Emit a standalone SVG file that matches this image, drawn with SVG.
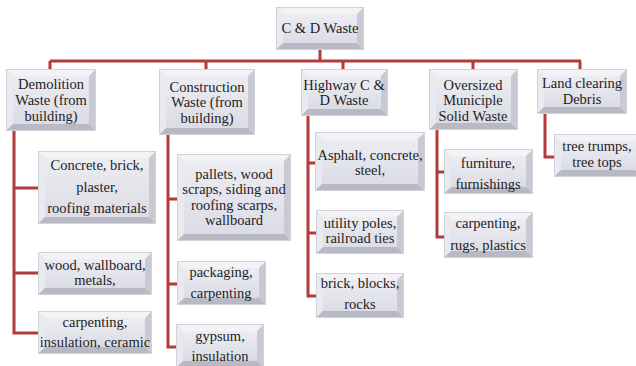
<svg xmlns="http://www.w3.org/2000/svg" width="636" height="366" viewBox="0 0 636 366">
<defs>
<linearGradient id="face" x1="0" y1="0" x2="0" y2="1">
<stop offset="0" stop-color="#ececf2"/>
<stop offset="1" stop-color="#dcdce6"/>
</linearGradient>
</defs>
<style>
.o{fill:url(#face);stroke:#d2d2da;stroke-width:2}
.t{fill:#f3f3f7}
.l{fill:#e9e9f0}
.r{fill:#c9c9d3}
.b{fill:#b9b9c5}
.c{fill:none;stroke:#b23b3b;stroke-width:3}
.x{font-family:'Liberation Serif','DejaVu Serif',serif;font-size:14.5px;fill:#1e1e1e;text-anchor:middle}
</style>
<rect width="636" height="366" fill="#ffffff"/>
<g id="connectors">
<path class="c" d="M320,49 V61 M50,61 H581 M50,61 V70 M206,61 V70 M343,61 V70 M473,61 V70 M580,61 V70"/>
<path class="c" d="M14,130 V333 H39 M14,188 H39 M14,273 H39"/>
<path class="c" d="M168,134 V347 H177 M168,199 H178 M168,284 H178"/>
<path class="c" d="M308,115 V296 H317 M308,163 H316 M308,233 H317"/>
<path class="c" d="M437,129 V237 H445 M437,172 H445"/>
<path class="c" d="M545,113 V157 H555"/>
</g>
<g id="root">
<rect class="o" x="277" y="8" width="86" height="41"/>
<path class="t" d="M277,8 h86 l-6,6 h-74 z"/><path class="l" d="M277,8 v41 l6,-6 v-29 z"/>
<path class="r" d="M363,8 v41 l-6,-6 v-29 z"/><path class="b" d="M277,49 h86 l-6,-6 h-74 z"/>
<rect x="283" y="14" width="74" height="29" fill="url(#face)"/>
<text class="x" x="320" y="33">C &amp; D Waste</text>
</g>
<g id="demolition">
<rect class="o" x="7" y="70" width="88" height="60"/>
<path class="t" d="M7,70 h88 l-6,6 h-76 z"/><path class="l" d="M7,70 v60 l6,-6 v-48 z"/>
<path class="r" d="M95,70 v60 l-6,-6 v-48 z"/><path class="b" d="M7,130 h88 l-6,-6 h-76 z"/>
<rect x="13" y="76" width="76" height="48" fill="url(#face)"/>
<g class="x"><text x="51" y="89">Demolition</text><text x="51" y="105">Waste (from</text><text x="51" y="121">building)</text></g>
</g>
<g id="construction">
<rect class="o" x="160" y="70" width="94" height="64"/>
<path class="t" d="M160,70 h94 l-6,6 h-82 z"/><path class="l" d="M160,70 v64 l6,-6 v-52 z"/>
<path class="r" d="M254,70 v64 l-6,-6 v-52 z"/><path class="b" d="M160,134 h94 l-6,-6 h-82 z"/>
<rect x="166" y="76" width="82" height="52" fill="url(#face)"/>
<g class="x"><text x="207" y="92">Construction</text><text x="207" y="107">Waste (from</text><text x="207" y="123">building)</text></g>
</g>
<g id="highway">
<rect class="o" x="302" y="70" width="85" height="45"/>
<path class="t" d="M302,70 h85 l-6,6 h-73 z"/><path class="l" d="M302,70 v45 l6,-6 v-33 z"/>
<path class="r" d="M387,70 v45 l-6,-6 v-33 z"/><path class="b" d="M302,115 h85 l-6,-6 h-73 z"/>
<rect x="308" y="76" width="73" height="33" fill="url(#face)"/>
<g class="x"><text x="344" y="90">Highway C &amp;</text><text x="344" y="105">D Waste</text></g>
</g>
<g id="oversized">
<rect class="o" x="430" y="70" width="87" height="59"/>
<path class="t" d="M430,70 h87 l-6,6 h-75 z"/><path class="l" d="M430,70 v59 l6,-6 v-47 z"/>
<path class="r" d="M517,70 v59 l-6,-6 v-47 z"/><path class="b" d="M430,129 h87 l-6,-6 h-75 z"/>
<rect x="436" y="76" width="75" height="47" fill="url(#face)"/>
<g class="x"><text x="473" y="90">Oversized</text><text x="473" y="105">Municiple</text><text x="473" y="121">Solid Waste</text></g>
</g>
<g id="landclearing">
<rect class="o" x="538" y="70" width="88" height="43"/>
<path class="t" d="M538,70 h88 l-6,6 h-76 z"/><path class="l" d="M538,70 v43 l6,-6 v-31 z"/>
<path class="r" d="M626,70 v43 l-6,-6 v-31 z"/><path class="b" d="M538,113 h88 l-6,-6 h-76 z"/>
<rect x="544" y="76" width="76" height="31" fill="url(#face)"/>
<g class="x"><text x="582" y="88">Land clearing</text><text x="582" y="104">Debris</text></g>
</g>
<g id="concrete">
<rect class="o" x="39" y="152" width="116" height="71"/>
<path class="t" d="M39,152 h116 l-6,6 h-104 z"/><path class="l" d="M39,152 v71 l6,-6 v-59 z"/>
<path class="r" d="M155,152 v71 l-6,-6 v-59 z"/><path class="b" d="M39,223 h116 l-6,-6 h-104 z"/>
<rect x="45" y="158" width="104" height="59" fill="url(#face)"/>
<g class="x"><text x="97" y="170">Concrete, brick,</text><text x="97" y="192">plaster,</text><text x="97" y="213">roofing materials</text></g>
</g>
<g id="wood">
<rect class="o" x="39" y="253" width="112" height="41"/>
<path class="t" d="M39,253 h112 l-6,6 h-100 z"/><path class="l" d="M39,253 v41 l6,-6 v-29 z"/>
<path class="r" d="M151,253 v41 l-6,-6 v-29 z"/><path class="b" d="M39,294 h112 l-6,-6 h-100 z"/>
<rect x="45" y="259" width="100" height="29" fill="url(#face)"/>
<g class="x"><text x="95" y="270">wood, wallboard,</text><text x="95" y="285">metals,</text></g>
</g>
<g id="carpenting1">
<rect class="o" x="39" y="312" width="112" height="41"/>
<path class="t" d="M39,312 h112 l-6,6 h-100 z"/><path class="l" d="M39,312 v41 l6,-6 v-29 z"/>
<path class="r" d="M151,312 v41 l-6,-6 v-29 z"/><path class="b" d="M39,353 h112 l-6,-6 h-100 z"/>
<rect x="45" y="318" width="100" height="29" fill="url(#face)"/>
<g class="x"><text x="95" y="327">carpenting,</text><text x="95" y="347">insulation, ceramic</text></g>
</g>
<g id="pallets">
<rect class="o" x="178" y="155" width="112" height="85"/>
<path class="t" d="M178,155 h112 l-6,6 h-100 z"/><path class="l" d="M178,155 v85 l6,-6 v-73 z"/>
<path class="r" d="M290,155 v85 l-6,-6 v-73 z"/><path class="b" d="M178,240 h112 l-6,-6 h-100 z"/>
<rect x="184" y="161" width="100" height="73" fill="url(#face)"/>
<g class="x"><text x="234" y="179">pallets, wood</text><text x="234" y="194">scraps, siding and</text><text x="234" y="210">roofing scarps,</text><text x="234" y="225">wallboard</text></g>
</g>
<g id="packaging">
<rect class="o" x="178" y="262" width="87" height="42"/>
<path class="t" d="M178,262 h87 l-6,6 h-75 z"/><path class="l" d="M178,262 v42 l6,-6 v-30 z"/>
<path class="r" d="M265,262 v42 l-6,-6 v-30 z"/><path class="b" d="M178,304 h87 l-6,-6 h-75 z"/>
<rect x="184" y="268" width="75" height="30" fill="url(#face)"/>
<g class="x"><text x="221" y="277">packaging,</text><text x="221" y="298">carpenting</text></g>
</g>
<g id="gypsum">
<rect class="o" x="177" y="325" width="86" height="42"/>
<path class="t" d="M177,325 h86 l-6,6 h-74 z"/><path class="l" d="M177,325 v42 l6,-6 v-30 z"/>
<path class="r" d="M263,325 v42 l-6,-6 v-30 z"/><path class="b" d="M177,367 h86 l-6,-6 h-74 z"/>
<rect x="183" y="331" width="74" height="30" fill="url(#face)"/>
<g class="x"><text x="220" y="341">gypsum,</text><text x="220" y="361">insulation</text></g>
</g>
<g id="asphalt">
<rect class="o" x="316" y="133" width="108" height="57"/>
<path class="t" d="M316,133 h108 l-6,6 h-96 z"/><path class="l" d="M316,133 v57 l6,-6 v-45 z"/>
<path class="r" d="M424,133 v57 l-6,-6 v-45 z"/><path class="b" d="M316,190 h108 l-6,-6 h-96 z"/>
<rect x="322" y="139" width="96" height="45" fill="url(#face)"/>
<g class="x"><text x="370" y="160">Asphalt, concrete,</text><text x="370" y="175">steel,</text></g>
</g>
<g id="utility">
<rect class="o" x="317" y="211" width="86" height="42"/>
<path class="t" d="M317,211 h86 l-6,6 h-74 z"/><path class="l" d="M317,211 v42 l6,-6 v-30 z"/>
<path class="r" d="M403,211 v42 l-6,-6 v-30 z"/><path class="b" d="M317,253 h86 l-6,-6 h-74 z"/>
<rect x="323" y="217" width="74" height="30" fill="url(#face)"/>
<g class="x"><text x="360" y="228">utility poles,</text><text x="360" y="243">railroad ties</text></g>
</g>
<g id="brick">
<rect class="o" x="317" y="274" width="86" height="43"/>
<path class="t" d="M317,274 h86 l-6,6 h-74 z"/><path class="l" d="M317,274 v43 l6,-6 v-31 z"/>
<path class="r" d="M403,274 v43 l-6,-6 v-31 z"/><path class="b" d="M317,317 h86 l-6,-6 h-74 z"/>
<rect x="323" y="280" width="74" height="31" fill="url(#face)"/>
<g class="x"><text x="360" y="288">brick, blocks,</text><text x="360" y="309">rocks</text></g>
</g>
<g id="furniture">
<rect class="o" x="445" y="150" width="87" height="43"/>
<path class="t" d="M445,150 h87 l-6,6 h-75 z"/><path class="l" d="M445,150 v43 l6,-6 v-31 z"/>
<path class="r" d="M532,150 v43 l-6,-6 v-31 z"/><path class="b" d="M445,193 h87 l-6,-6 h-75 z"/>
<rect x="451" y="156" width="75" height="31" fill="url(#face)"/>
<g class="x"><text x="488" y="168">furniture,</text><text x="488" y="189">furnishings</text></g>
</g>
<g id="carpenting2">
<rect class="o" x="445" y="213" width="87" height="44"/>
<path class="t" d="M445,213 h87 l-6,6 h-75 z"/><path class="l" d="M445,213 v44 l6,-6 v-32 z"/>
<path class="r" d="M532,213 v44 l-6,-6 v-32 z"/><path class="b" d="M445,257 h87 l-6,-6 h-75 z"/>
<rect x="451" y="219" width="75" height="32" fill="url(#face)"/>
<g class="x"><text x="488" y="228">carpenting,</text><text x="488" y="250">rugs, plastics</text></g>
</g>
<g id="tree">
<rect class="o" x="555" y="135" width="86" height="41"/>
<path class="t" d="M555,135 h86 l-6,6 h-74 z"/><path class="l" d="M555,135 v41 l6,-6 v-29 z"/>
<path class="b" d="M555,176 h86 l-6,-6 h-74 z"/>
<rect x="561" y="141" width="74" height="29" fill="url(#face)"/>
<g class="x"><text x="597" y="151">tree trumps,</text><text x="597" y="167">tree tops</text></g>
</g>
</svg>
